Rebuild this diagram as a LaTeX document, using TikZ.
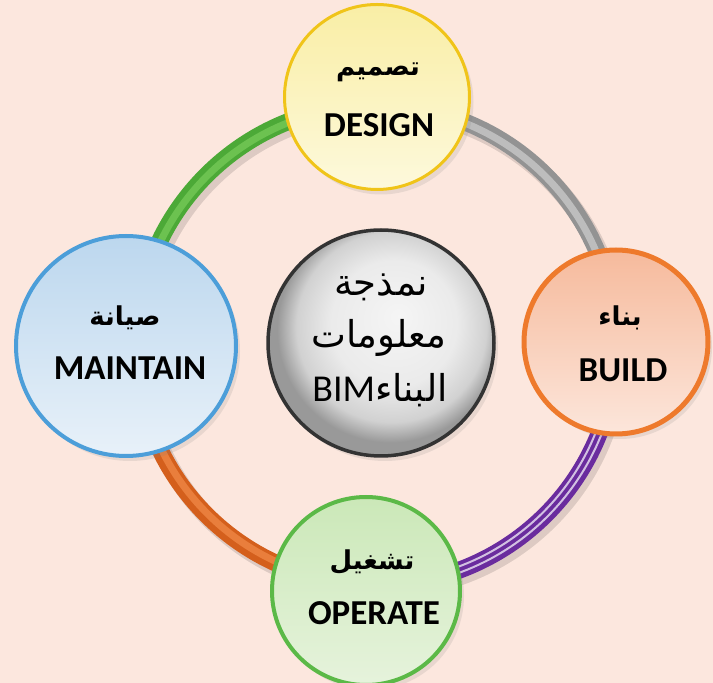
\documentclass[tikz,border=0pt]{standalone}
\usepackage{fontspec}
\setmainfont{Carlito}
\newfontfamily\arabicfont[Script=Arabic]{DejaVu Sans}
\TeXXeTstate=1
\usetikzlibrary{shadows}
\definecolor{bg}{HTML}{FCE7DE}
\definecolor{gdark}{HTML}{4CA937}
\definecolor{glight}{HTML}{6CC250}
\definecolor{sdark}{HTML}{939393}
\definecolor{slight}{HTML}{BDBDBD}
\definecolor{pdark}{HTML}{6A2C9E}
\definecolor{odark}{HTML}{D45F1C}
\definecolor{olight}{HTML}{E97E3C}
\definecolor{ydraw}{HTML}{F0C419}
\definecolor{ytop}{HTML}{F9EEA5}
\definecolor{ybot}{HTML}{FDF9DC}
\definecolor{bdraw}{HTML}{EE7A2C}
\definecolor{btop}{HTML}{F6BA9C}
\definecolor{bbot}{HTML}{FCE6DB}
\definecolor{odraw}{HTML}{5BB947}
\definecolor{otop}{HTML}{CBE8B8}
\definecolor{obot}{HTML}{E6F3DC}
\definecolor{mdraw}{HTML}{4C9ED9}
\definecolor{mtop}{HTML}{BCD7EE}
\definecolor{mbot}{HTML}{E8F1F9}
\definecolor{cdraw}{HTML}{333333}
\pgfdeclareradialshading{ballgray}{\pgfpoint{4bp}{6bp}}{%
  color(0bp)=(white!96!black); color(14bp)=(white!92!black);
  color(21bp)=(white!82!black); color(25bp)=(white!60!black);
  color(50bp)=(white!60!black)}
\begin{document}
\begin{tikzpicture}[x=1pt,y=1pt,
  phase/.style={circle, inner sep=0pt,
    drop shadow={opacity=0.16, shadow xshift=4pt, shadow yshift=-5pt}},
  lat/.style={font=\fontsize{35}{38}\selectfont\bfseries},
  arb/.style={font=\arabicfont\bfseries\fontsize{26}{30}\selectfont},
  ctr/.style={font=\arabicfont\fontsize{37}{42}\selectfont},
  tubeshadow/.style={line width=18pt, draw=black, opacity=0.12},
  tube/.style={line width=17pt, draw=#1},
  stripe/.style={line width=#1}]
\fill[bg] (0,0) rectangle (713,683);
\useasboundingbox (0,0) rectangle (713,683);
\coordinate (ringc) at (376,338);
% shadows of ring
\foreach \a in {0,90,180,270}{
  \draw[tubeshadow] ([shift={(4,-5)}]ringc) ++(\a:240) arc[start angle=\a, end angle=\a+90, radius=240];
}
% gray arc (Design -> Build)
\draw[tube=sdark] (ringc) ++(0:240) arc[start angle=0, end angle=90, radius=240];
\draw[stripe=7pt, draw=slight] (ringc) ++(0:239) arc[start angle=0, end angle=90, radius=239];
% green arc (Maintain -> Design)
\draw[tube=gdark] (ringc) ++(90:240) arc[start angle=90, end angle=180, radius=240];
\draw[stripe=7pt, draw=glight] (ringc) ++(90:239) arc[start angle=90, end angle=180, radius=239];
% orange arc (Operate -> Maintain)
\draw[tube=odark] (ringc) ++(180:240) arc[start angle=180, end angle=270, radius=240];
\draw[stripe=7pt, draw=olight] (ringc) ++(180:238.5) arc[start angle=180, end angle=270, radius=238.5];
% purple arc (Build -> Operate)
\draw[tube=pdark] (ringc) ++(270:240) arc[start angle=270, end angle=360, radius=240];
\draw[stripe=2pt, draw=white, opacity=0.7] (ringc) ++(285:236.5) arc[start angle=285, end angle=360, radius=236.5];
\draw[stripe=2pt, draw=white, opacity=0.7] (ringc) ++(285:242.5) arc[start angle=285, end angle=360, radius=242.5];
% circles
\node[phase, minimum size=185pt, draw=ydraw, line width=3pt, top color=ytop, bottom color=ybot] (design) at (377,586) {};
\node[phase, minimum size=184pt, draw=bdraw, line width=5pt, top color=btop, bottom color=bbot] (build) at (616,341) {};
\node[phase, minimum size=188pt, draw=odraw, line width=4pt, top color=otop, bottom color=obot] (operate) at (366,92) {};
\node[phase, minimum size=220pt, draw=mdraw, line width=4pt, top color=mtop, bottom color=mbot] (maintain) at (126,337) {};
\node[phase, minimum size=226pt, draw=cdraw, line width=3.5pt, shading=ballgray] (bim) at (381,340) {};
% labels
\node[arb] (designar) at (378,611) {\beginR تصميم\endR};
\node[lat] (designen) at (379,558) {DESIGN};
\node[arb] (buildar) at (620,365) {\beginR بناء\endR};
\node[lat] (builden) at (623,313) {BUILD};
\node[arb] (operatear) at (372,121) {\beginR تشغيل\endR};
\node[lat] (operateen) at (374,70) {OPERATE};
\node[arb] (maintainar) at (125,365) {\beginR صيانة\endR};
\node[lat] (maintainen) at (130,315) {MAINTAIN};
\node[ctr] (bim1) at (381,396) {\beginR نمذجة\endR};
\node[ctr] (bim2) at (379,345) {\beginR معلومات\endR};
\node[inner sep=0pt] (bim3) at (380,293) {{\fontsize{38}{42}\selectfont BIM}{\arabicfont\fontsize{37}{42}\selectfont\beginR البناء\endR}};
\end{tikzpicture}
\end{document}
